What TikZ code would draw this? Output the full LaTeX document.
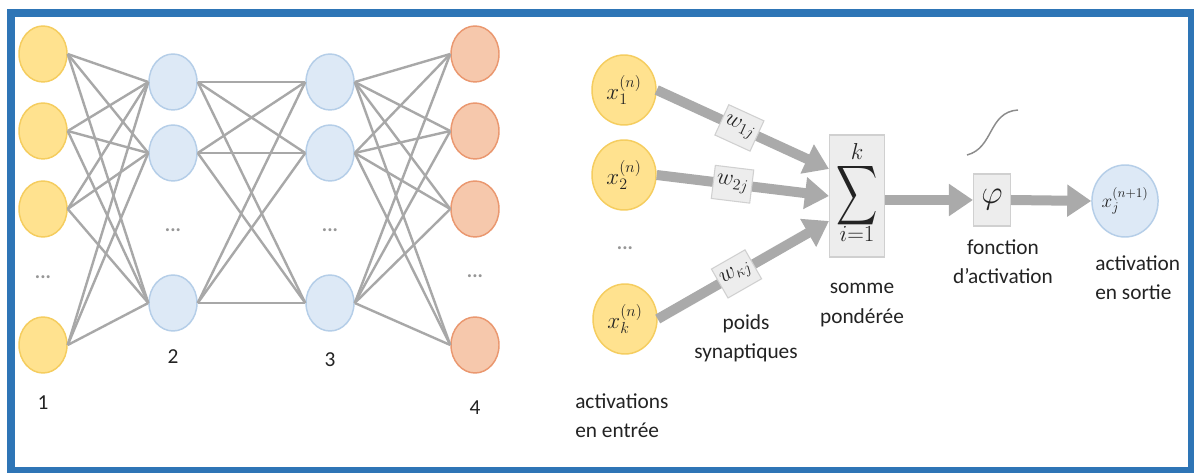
\documentclass[tikz,border=0pt]{standalone}
\usepackage{fontspec}
\setmainfont{Carlito}
\usepackage{graphicx}
\usetikzlibrary{shapes.geometric,arrows.meta,calc}

\definecolor{frameblue}{RGB}{46,117,182}
\definecolor{yelfill}{RGB}{255,226,143}
\definecolor{yeldraw}{RGB}{245,205,95}
\definecolor{bluefill}{RGB}{221,233,246}
\definecolor{bluedraw}{RGB}{181,206,232}
\definecolor{orfill}{RGB}{246,200,172}
\definecolor{ordraw}{RGB}{234,152,112}
\definecolor{wirecol}{RGB}{168,168,168}
\definecolor{flowcol}{RGB}{170,170,170}
\definecolor{boxfill}{RGB}{237,237,237}
\definecolor{boxdraw}{RGB}{208,208,208}
\definecolor{ink}{RGB}{35,35,35}
\definecolor{dotgray}{RGB}{150,150,150}
\definecolor{curvecol}{RGB}{140,140,140}

\begin{document}
\begin{tikzpicture}[x=0.75pt,y=-0.75pt,
  neuron/.style={ellipse,minimum width=36pt,minimum height=42pt,inner sep=0pt,line width=1.1pt},
  inl/.style={neuron,fill=yelfill,draw=yeldraw},
  hid/.style={neuron,fill=bluefill,draw=bluedraw},
  outl/.style={neuron,fill=orfill,draw=ordraw},
  wire/.style={draw=wirecol,line width=1.8pt},
  dots/.style={text=dotgray,inner sep=0pt,font=\fontsize{15}{15}\selectfont\bfseries},
  lbl/.style={text=ink,inner sep=0pt,font=\fontsize{16}{22}\selectfont},
  cell/.style={ellipse,minimum width=48pt,minimum height=52.5pt,inner sep=0pt,line width=1.1pt,
    fill=yelfill,draw=yeldraw,text=ink,font=\fontsize{17}{17}\selectfont},
  outcell/.style={ellipse,minimum width=49.5pt,minimum height=54pt,inner sep=0pt,line width=1.1pt,
    fill=bluefill,draw=bluedraw,text=ink,font=\fontsize{14}{14}\selectfont},
  wbox/.style={rectangle,fill=boxfill,draw=boxdraw,line width=0.8pt,minimum width=29pt,
    minimum height=25pt,inner sep=0pt,text=ink,font=\fontsize{17}{17}\selectfont},
  opbox/.style={rectangle,fill=boxfill,draw=boxdraw,line width=0.8pt,inner sep=0pt,text=ink},
  flow/.style={draw=flowcol,line width=7.5pt,-{Triangle[length=18pt,width=23pt]}}
]
\useasboundingbox (0,0) rectangle (1194,473);
\fill[white] (0,0) rectangle (1194,473);
\draw[frameblue,line width=6pt] (11,13) rectangle (1192,471);

% ---------- multilayer network ----------
\node[inl] (a1) at (43,54) {};
\node[inl] (a2) at (43,131) {};
\node[inl] (a3) at (43,209) {};
\node[inl] (a4) at (43,345) {};
\node[dots] (da) at (43,277) {...};

\node[hid] (b1) at (173,82) {};
\node[hid] (b2) at (173,153) {};
\node[hid] (b3) at (173,303) {};
\node[dots] (db) at (173,230) {...};

\node[hid] (c1) at (330,82) {};
\node[hid] (c2) at (330,153) {};
\node[hid] (c3) at (330,303) {};
\node[dots] (dc) at (330,230) {...};

\node[outl] (e1) at (475,54) {};
\node[outl] (e2) at (475,131) {};
\node[outl] (e3) at (475,209) {};
\node[outl] (e4) at (475,345) {};
\node[dots] (de) at (475,276) {...};

\foreach \i in {1,...,4}
  \foreach \j in {1,2,3}
    \draw[wire] (a\i.east) -- (b\j.west);
\foreach \i in {1,2,3}
  \foreach \j in {1,2,3}
    \draw[wire] (b\i.east) -- (c\j.west);
\foreach \i in {1,2,3}
  \foreach \j in {1,...,4}
    \draw[wire] (c\i.east) -- (e\j.west);

\node[lbl] (n1) at (43,403) {1};
\node[lbl] (n2) at (173,357) {2};
\node[lbl] (n3) at (330,360) {3};
\node[lbl] (n4) at (475,408) {4};

% ---------- single neuron ----------
\node[cell] (x1) at (624,90) {$x_1^{(n)}$};
\node[cell] (x2) at (624,175) {$x_2^{(n)}$};
\node[cell] (xk) at (625,319) {$x_k^{(n)}$};
\node[dots] (dx) at (625,248) {...};

\node[opbox,minimum width=41.25pt,minimum height=91.5pt] (sum) at (857,196)
  {\fontsize{17}{17}\selectfont$\begin{array}{@{}c@{}} k\\[-3pt]
   \resizebox*{31pt}{50pt}{$\displaystyle\sum$}\\[-2pt] i{=}1\end{array}$};
\node[opbox,minimum width=27.75pt,minimum height=39pt] (phi) at (992,200)
  {\fontsize{29}{29}\selectfont$\varphi$};
\node[outcell] (y) at (1125,201) {$x_j^{(n+1)}$};

\draw[flow] (x1.east) -- ($(sum.west)+(0,-27)$)
  node[wbox,pos=0.48,sloped] (w1) {$w_{1j}$};
\draw[flow] (x2.east) -- ($(sum.west)+(0,0)$)
  node[wbox,pos=0.44,sloped] (w2) {$w_{2j}$};
\draw[flow] (xk.east) -- ($(sum.west)+(0,25)$)
  node[wbox,pos=0.46,sloped] (wk) {$w_{\kappa j}$};
\draw[flow] ($(sum.east)+(0,4)$) -- (phi.west);
\draw[flow] (phi.east) -- (y.west);

% sigmoid sketch above the activation function
\draw[curvecol,line width=1.1pt] (967,155) .. controls (994,148) and (988,112) .. (1018,110);

\node[lbl,align=left,anchor=west] (tin) at (575,416) {activations\\en entrée};
\node[lbl,align=center] (tw) at (746,338) {poids\\synaptiques};
\node[lbl,align=center] (ts) at (862,305) {somme\\pondérée};
\node[lbl,align=center] (tf) at (1003,262) {fonction\\d’activation};
\node[lbl,align=left,anchor=west] (to) at (1095,278) {activation\\en sortie};
\end{tikzpicture}
\end{document}
